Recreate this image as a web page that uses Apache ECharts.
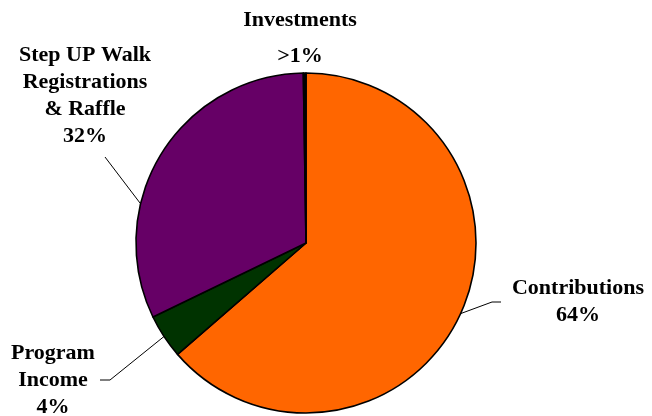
<!DOCTYPE html>
<html>
<head>
<meta charset="utf-8">
<script src="https://cdn.jsdelivr.net/npm/echarts@6/dist/echarts.min.js"></script>
<style>
html,body{margin:0;padding:0;background:#fff;}
#chart{width:652px;height:416px;}
</style>
</head>
<body>
<div id="chart"></div>
<script>
// Data
const categories = ['Contributions', 'Program\nIncome', 'Step UP Walk\nRegistrations\n& Raffle', 'Investments'];
const values = [63.6, 4.2, 31.9, 0.25];
const percentLabels = ['64%', '4%', '32%', '>1%'];
const colors = ['#FF6600', '#003300', '#660066', '#000000'];

// Label placement (text block centres) and line anchors
const labelCentres = [[578, 302], [53, 380], [85, 96], [300, 38]];
const lineElbows = [[[492, 302], [501, 302]], [[110, 380], [100, 380]], [[105, 157], [105, 157]], null];
const lineStarts = [null, null, [140, 203], null];

const chart = echarts.init(document.getElementById('chart'), null, {renderer: 'canvas'});
const data = categories.map((c, i) => ({
  name: c,
  value: values[i],
  itemStyle: {color: colors[i]},
  label: {lineHeight: i === 3 ? 36 : 27},
  labelLine: {show: i !== 3}
}));

chart.setOption({
  animation: false,
  backgroundColor: '#ffffff',
  series: [{
    type: 'pie',
    center: [306, 243],
    radius: 170,
    startAngle: 90,
    clockwise: true,
    avoidLabelOverlap: false,
    data: data,
    itemStyle: {borderColor: '#000', borderWidth: 1.6},
    emphasis: {disabled: true},
    label: {
      show: true,
      position: 'outside',
      formatter: p => p.name + '\n' + percentLabels[p.dataIndex],
      fontFamily: 'Liberation Serif',
      fontWeight: 'bold',
      fontSize: 22,
      color: '#000',
      align: 'center'
    },
    labelLine: {show: true, length: 10, length2: 10, lineStyle: {color: '#000', width: 1}},
    labelLayout: function (params) {
      const i = params.dataIndex;
      const res = {
        x: labelCentres[i][0],
        y: labelCentres[i][1],
        align: 'center',
        verticalAlign: 'middle'
      };
      if (lineElbows[i] && params.labelLinePoints) {
        const start = lineStarts[i] || params.labelLinePoints[0];
        res.labelLinePoints = [start, lineElbows[i][0], lineElbows[i][1]];
      }
      return res;
    }
  }]
});
</script>
</body>
</html>
